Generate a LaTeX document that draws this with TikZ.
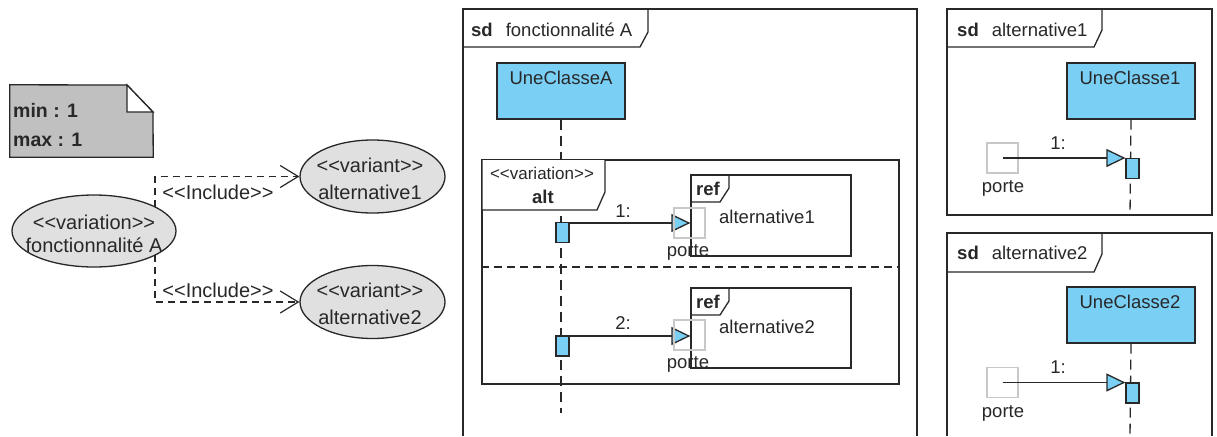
\documentclass[tikz,border=0pt]{standalone}
\usepackage{fontspec}
\setmainfont{Liberation Sans}
\usetikzlibrary{arrows.meta,shapes.geometric}
\definecolor{lc}{RGB}{40,40,40}
\definecolor{ublue}{RGB}{122,207,245}
\definecolor{egray}{RGB}{224,224,224}
\definecolor{ngray}{RGB}{192,192,192}
\definecolor{ggray}{RGB}{200,200,200}
\pgfdeclarelayer{bg}
\pgfsetlayers{bg,main}
\newcommand{\dlt}{<\kern0pt<}
\newcommand{\dgt}{>\kern0pt>}
\begin{document}
\begin{tikzpicture}[x=1pt,y=-1pt,
  every node/.style={font=\fontsize{18.5}{23}\selectfont, text=lc, inner sep=0pt},
  big/.style={font=\fontsize{20}{23}\selectfont},
  ln/.style={draw=lc, line width=1.3pt},
  usecase/.style={ellipse, ln, fill=egray, minimum width=164pt, minimum height=72pt},
  variant/.style={ellipse, ln, fill=egray, minimum width=145pt, minimum height=73pt},
  dep/.style={draw=lc, line width=1.2pt, dash pattern=on 7pt off 5pt, -{Straight Barb[length=18pt,width=22pt,line width=1.2pt]}},
  life/.style={draw=lc, line width=1.3pt, dash pattern=on 10pt off 6pt},
  headbox/.style={rectangle, ln, fill=ublue, minimum width=128pt, minimum height=56pt},
  act/.style={rectangle, ln, fill=ublue, minimum width=13pt, minimum height=20pt},
  gate/.style={rectangle, draw=ggray, line width=1.3pt, minimum width=31pt, minimum height=30pt},
  msg/.style={draw=lc, line width=1.3pt, -{Triangle[length=19pt,width=18pt,fill=ublue,line width=1.3pt]}},
  frm/.style={draw=lc, line width=1.3pt},
  sep/.style={draw=lc, line width=1.3pt, dash pattern=on 8pt off 5pt},
  bf/.style={font=\fontsize{18.5}{23}\selectfont\bfseries}
]
\useasboundingbox (0,0) rectangle (1217,436);
\fill[white] (0,0) rectangle (1217,436);

% ---------------- left: use case diagram ----------------
\node[rectangle, minimum width=143pt, minimum height=72pt] (note) at (81.5,121) {};
\filldraw[ln, fill=ngray] (note.south west) -- (note.north west) -- (127,85) -- (153,112) -- (note.south east) -- cycle;
\filldraw[ln, fill=white, line join=miter] (127,85) -- (127,112) -- (153,112) -- cycle;
\node[anchor=west, font=\fontsize{19.5}{23}\selectfont\bfseries] (nmin) at (13,110) {min : 1};
\node[anchor=west, font=\fontsize{19.5}{23}\selectfont\bfseries] (nmax) at (13,140) {max : 1};

\node[usecase] (fA) at (94,231) {};
\node[big] (fAa) at (94,222) {\dlt variation\dgt};
\node[big] (fAb) at (94,245) {fonctionnalité A};
\node[variant] (v1) at (372.5,176.5) {};
\node[big] (v1a) at (370,165) {\dlt variant\dgt};
\node[big] (v1b) at (370,192) {alternative1};
\node[variant] (v2) at (372.5,302) {};
\node[big] (v2a) at (370,290) {\dlt variant\dgt};
\node[big] (v2b) at (370,317) {alternative2};

\coordinate (na) at (48,157);
\coordinate (i1) at (155,207);
\coordinate (i2) at (155,255);
\begin{pgfonlayer}{bg}
\draw[draw=lc, line width=1.2pt, dash pattern=on 7pt off 5pt] (na) -- (na |- fA.center);
\end{pgfonlayer}
\draw[dep] (i1) |- (v1.west);
\draw[dep] (i2) |- (v2.west);
\node[big] (inc1) at (218,192) {\dlt Include\dgt};
\node[big] (inc2) at (218,290) {\dlt Include\dgt};

% ---------------- middle: sd fonctionnalité A ----------------
\draw[frm] (463,436) -- (463,9) -- (917,9) -- (917,436);
\draw[frm] (463,47) -- (640,47) -- (648,32) -- (648,9);
\node[anchor=west] (tA) at (471,30) {\textbf{sd}\hspace{13pt}fonctionnalité A};

\node[headbox] (hA) at (561,91) {};
\node (hAt) at (561,78) {UneClasseA};
\draw[life] (hA.south) -- (561,413);

% alt fragment
\node[rectangle, ln, minimum width=417pt, minimum height=224pt] (alt) at (690.5,272) {};
\draw[frm, fill=white] (482,160) -- (482,210) -- (597,210) -- (605,192) -- (605,160);
\node[font=\fontsize{17}{20}\selectfont] (altv) at (542,173) {\dlt variation\dgt};
\node[bf] (altt) at (543,197) {alt};
\draw[sep] (alt.west |- 0,267) -- (alt.east |- 0,267);

% ref frames
\node[rectangle, ln, minimum width=160pt, minimum height=81pt] (r1) at (771,215.5) {};
\draw[frm] (691,202) -- (720,202) -- (729,188) -- (729,175);
\node[bf] (r1t) at (708,189) {ref};
\node (r1n) at (767,217) {alternative1};

\node[rectangle, ln, minimum width=160pt, minimum height=80pt] (r2) at (771,328) {};
\draw[frm] (691,315) -- (720,315) -- (729,301) -- (729,288);
\node[bf] (r2t) at (708,302) {ref};
\node (r2n) at (767,327) {alternative2};

% activations and messages
\node[act] (a1) at (562.5,232.5) {};
\node[act] (a2) at (562.5,346) {};
\coordinate (m1) at (569,223);
\coordinate (m2) at (569,336);
\draw[msg] (m1) -- (m1 -| r1.west);
\draw[msg] (m2) -- (m2 -| r2.west);
\node (l1) at (623,211) {1:};
\node (l2) at (623,323) {2:};
\node[gate] (g1) at (689.5,223) {};
\node[gate] (g2) at (689.5,335) {};
\node (p1) at (688,252) {porte};
\node (p2) at (688,364) {porte};

% ---------------- right: sd alternative1 ----------------
\node[rectangle, frm, minimum width=265pt, minimum height=206pt] (F1) at (1079.5,112) {};
\draw[frm] (947,47) -- (1094,47) -- (1102,30) -- (1102,9);
\node[anchor=west] (t1) at (957,30) {\textbf{sd}\hspace{13pt}alternative1};
\node[headbox] (h1) at (1131,91) {};
\node (h1t) at (1130,78) {UneClasse1};
\draw[life] (h1.south) -- (1130,215);
\node[act] (a3) at (1132.5,168.5) {};
\node[gate] (g3) at (1002.5,158) {};
\draw[msg] (g3.center) -- (g3.center -| a3.west);
\node (l3) at (1058,143) {1:};
\node (p3) at (1003,188) {porte};

% ---------------- right: sd alternative2 ----------------
\draw[frm] (947,436) -- (947,233) -- (1212,233) -- (1212,436);
\draw[frm] (947,272) -- (1094,272) -- (1102,254) -- (1102,233);
\node[anchor=west] (t2) at (957,253) {\textbf{sd}\hspace{13pt}alternative2};
\node[headbox] (h2) at (1131,315) {};
\node (h2t) at (1130,302) {UneClasse2};
\draw[life] (h2.south) -- (1130,436);
\node[act] (a4) at (1132.5,393) {};
\node[gate] (g4) at (1002.5,382.5) {};
\draw[msg] (g4.center) -- (g4.center -| a4.west);
\node (l4) at (1058,367) {1:};
\node (p4) at (1003,413) {porte};
\end{tikzpicture}
\end{document}
